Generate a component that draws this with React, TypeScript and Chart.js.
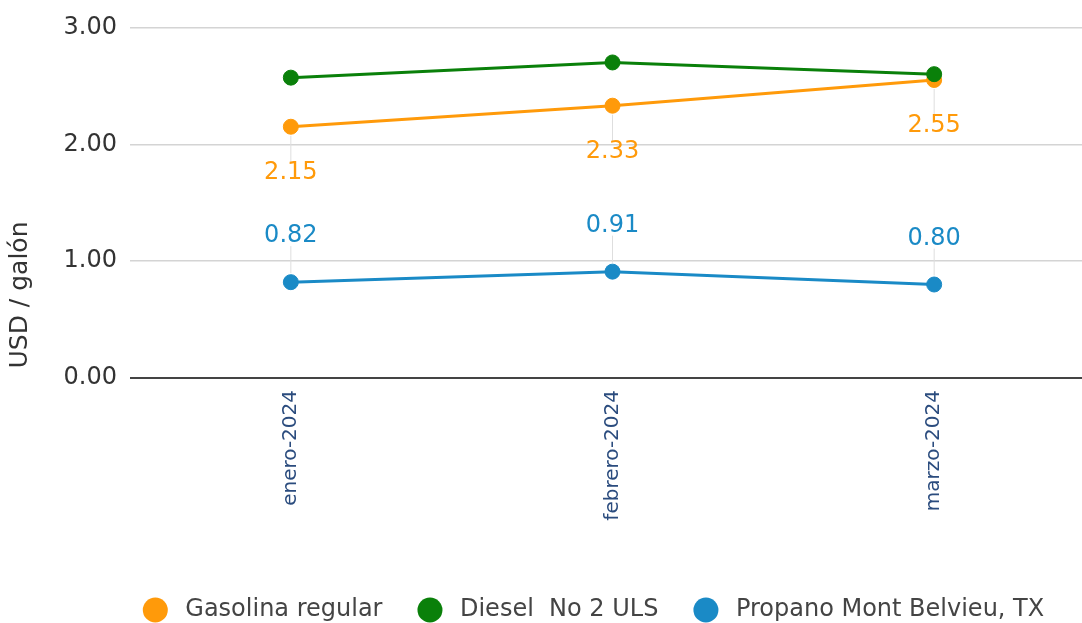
import React, { useEffect, useRef } from "react";
import { Chart, registerables } from "chart.js";

Chart.register(...registerables);

// ---- data ----
const categories = ["enero-2024", "febrero-2024", "marzo-2024"];
const gasolina = [2.15, 2.33, 2.55];
const diesel = [2.57, 2.7, 2.6];
const propano = [0.82, 0.91, 0.8];
const seriesNames = ["Gasolina regular", "Diesel  No 2 ULS", "Propano Mont Belvieu, TX"];
const seriesColors = ["#FF9A0A", "#0A800A", "#1A8AC6"];
const yTickValues = [0, 1, 2, 3];
const yTitle = "USD / galón";
// which series carry value labels: 1 = below the point, -1 = above, 0 = none
const labelSide = [1, 0, -1];

const FONT = '"DejaVu Sans", Verdana, sans-serif';

const overlayPlugin = {
  id: "overlay",
  afterDatasetsDraw(chart: any) {
    const ctx = chart.ctx;
    ctx.save();
    chart.data.datasets.forEach((ds: any, di: number) => {
      const side = labelSide[di];
      if (!side) return;
      const meta = chart.getDatasetMeta(di);
      meta.data.forEach((pt: any, i: number) => {
        const x = pt.x;
        const y = pt.y;
        const ly = y + side * 46;
        ctx.strokeStyle = "#dedede";
        ctx.lineWidth = 1;
        ctx.beginPath();
        if (side > 0) {
          ctx.moveTo(x, y + 9);
          ctx.lineTo(x, ly - 10);
        } else {
          ctx.moveTo(x, ly + 10);
          ctx.lineTo(x, y - 9);
        }
        ctx.stroke();
        ctx.font = "24px " + FONT;
        ctx.fillStyle = ds.borderColor;
        ctx.textAlign = "center";
        ctx.textBaseline = "middle";
        ctx.fillText(Number(ds.data[i]).toFixed(2), x, ly);
      });
    });
    ctx.restore();
  },
  afterDraw(chart: any) {
    const ctx = chart.ctx;
    ctx.save();
    ctx.translate(20, 295);
    ctx.rotate(-Math.PI / 2);
    ctx.font = "25px " + FONT;
    ctx.fillStyle = "#333";
    ctx.textAlign = "center";
    ctx.textBaseline = "middle";
    ctx.fillText(yTitle, 0, 0);
    ctx.restore();

    ctx.save();
    ctx.font = "24px " + FONT;
    ctx.textBaseline = "middle";
    ctx.textAlign = "left";
    const ds = chart.data.datasets;
    const r = 12.5;
    const textOff = 30;
    const gap = 35;
    const widths = ds.map((d: any) => ctx.measureText(d.label).width);
    const itemW = widths.map((w: number) => r + textOff + w);
    const total = itemW.reduce((a: number, b: number) => a + b, 0) + gap * (ds.length - 1);
    let x = 593.5 - total / 2;
    const cy = 610;
    ds.forEach((d: any, i: number) => {
      ctx.fillStyle = d.borderColor;
      ctx.beginPath();
      ctx.arc(x + r, cy, r, 0, Math.PI * 2);
      ctx.fill();
      ctx.fillStyle = "#444";
      ctx.fillText(d.label, x + r + textOff, cy);
      x += itemW[i] + gap;
    });
    ctx.restore();
  },
};

export default function App() {
  const canvasRef = useRef<HTMLCanvasElement | null>(null);

  useEffect(() => {
    document.documentElement.style.overflow = "hidden";
    document.body.style.overflow = "hidden";
    const canvas = canvasRef.current;
    if (!canvas) return;
    const seriesData = [gasolina, diesel, propano];
    const chart = new Chart(canvas, {
      type: "line",
      data: {
        labels: categories,
        datasets: seriesData.map((d, i) => ({
          label: seriesNames[i],
          data: d,
          borderColor: seriesColors[i],
          backgroundColor: seriesColors[i],
          pointBackgroundColor: seriesColors[i],
          pointBorderColor: seriesColors[i],
          pointRadius: 7.5,
          pointBorderWidth: 1,
          borderWidth: 3,
          tension: 0,
          fill: false,
          order: i === 1 ? 0 : 1,
        })),
      },
      options: {
        animation: false,
        responsive: true,
        maintainAspectRatio: false,
        layout: { padding: { top: 25, left: 0, right: 0, bottom: 0 }, autoPadding: false },
        plugins: {
          legend: { display: false },
          tooltip: { enabled: false },
        },
        scales: {
          x: {
            type: "category",
            offset: true,
            grid: { display: false, drawTicks: false },
            border: { display: false },
            ticks: {
              autoSkip: false,
              minRotation: 90,
              maxRotation: 90,
              padding: 12,
              color: "#2B4C7E",
              font: { family: FONT, size: 20 },
            },
            afterFit: (scale: any) => {
              scale.height = 245;
            },
          },
          y: {
            min: 0,
            max: 3,
            afterBuildTicks: (scale: any) => {
              scale.ticks = yTickValues.map((v) => ({ value: v }));
            },
            ticks: {
              padding: 13,
              color: "#333",
              font: { family: FONT, size: 24 },
              callback: (v: any) => Number(v).toFixed(2),
            },
            grid: {
              drawTicks: false,
              color: (c: any) => (c.tick && c.tick.value === 0 ? "#444" : "#d4d4d4"),
              lineWidth: (c: any) => (c.tick && c.tick.value === 0 ? 2 : 1.5),
            },
            border: { display: false },
            afterFit: (scale: any) => {
              scale.width = 130;
            },
          },
        },
      },
      plugins: [overlayPlugin],
    } as any);
    return () => chart.destroy();
  }, []);

  return (
    <div style={{ position: "fixed", left: 0, top: 0, width: 1095, height: 623, background: "#fff" }}>
      <canvas ref={canvasRef} />
    </div>
  );
}
